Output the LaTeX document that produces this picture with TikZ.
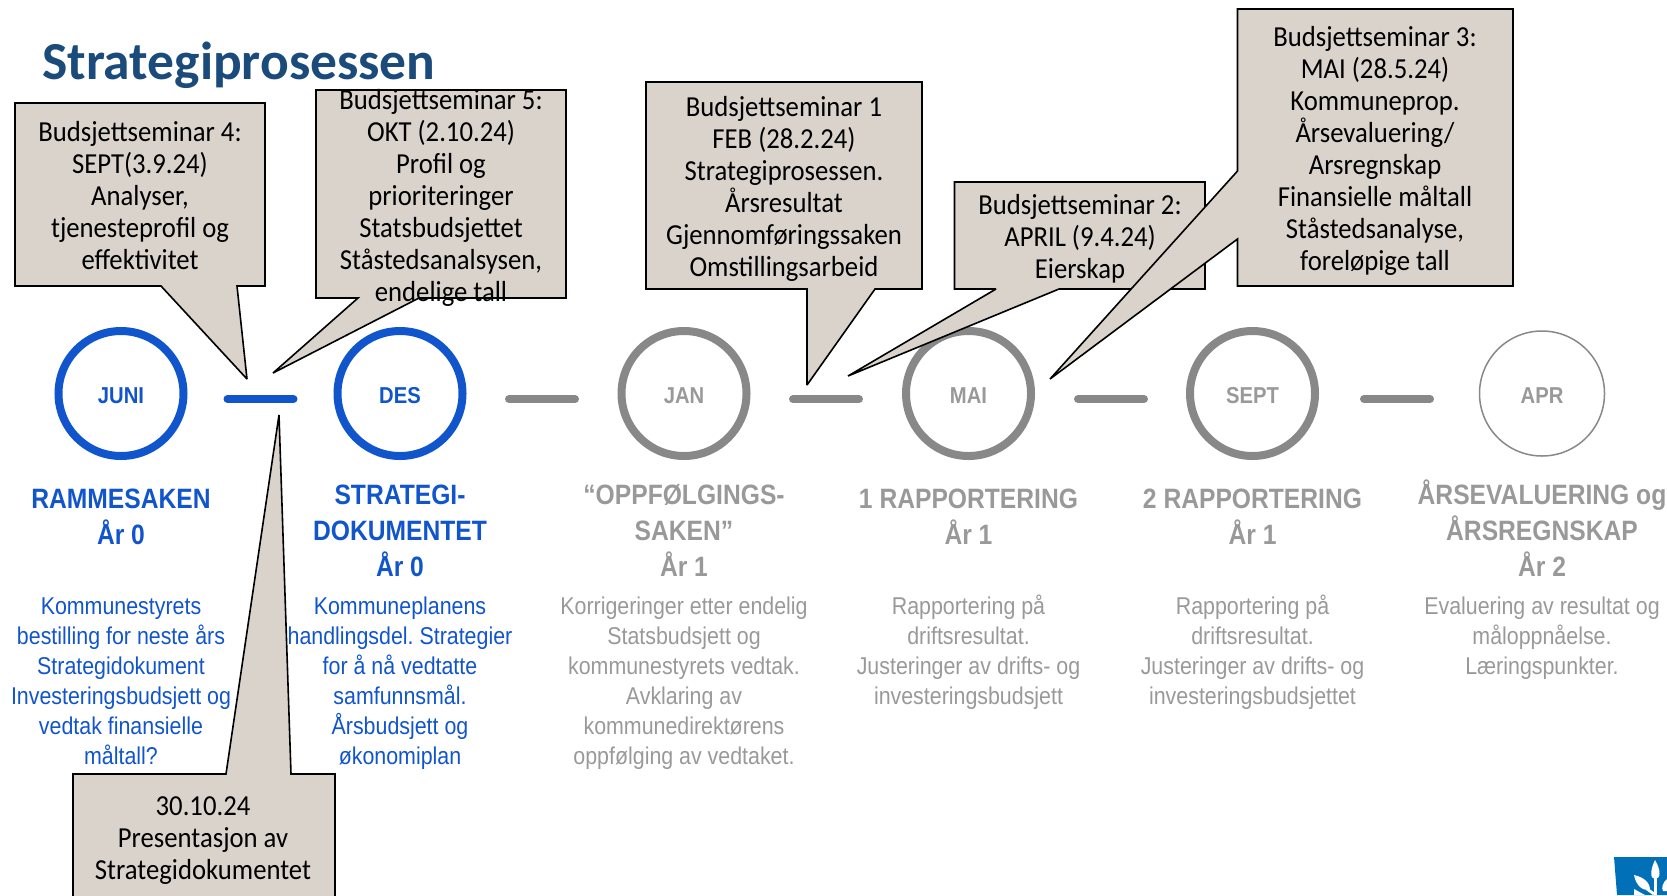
\documentclass[tikz,border=0pt]{standalone}
\usepackage{fontspec}
\setmainfont{Carlito}
\newfontfamily\calfont[FakeStretch=0.92]{Carlito}
\newfontfamily\robfont[FakeStretch=0.88]{Liberation Sans}
\frenchspacing
\definecolor{bluetl}{HTML}{1155CC}
\definecolor{graytl}{HTML}{888888}
\definecolor{graytx}{HTML}{999999}
\definecolor{callfill}{HTML}{D9D3CC}
\definecolor{titleblue}{HTML}{1A4B7A}
\definecolor{logoblue}{HTML}{0070B8}
\tikzset{
  callout/.style={draw=black,line width=1.6pt,fill=callfill,line join=miter,miter limit=3},
  calltext/.style={font=\calfont\fontsize{29}{32}\selectfont,align=center,anchor=north,inner sep=0pt,text=black},
  ring/.style={circle,draw=#1,line width=8pt,minimum size=125pt,inner sep=0pt,fill=none},
  monthlab/.style={font=\robfont\bfseries\fontsize{23}{26}\selectfont,text=#1,inner sep=0pt,text height=16pt,text depth=0pt},
  dashbar/.style={line width=8pt,line cap=round,draw=#1},
  headtext/.style={font=\robfont\bfseries\fontsize{28}{36}\selectfont,align=center,anchor=north,inner sep=0pt,text=#1},
  bodytext/.style={font=\robfont\fontsize{24.3}{30}\selectfont,align=center,anchor=north,inner sep=0pt,text=#1},
}
\begin{document}
\begin{tikzpicture}[x=1pt,y=-1pt]
\useasboundingbox (0,0) rectangle (1667,895);
\clip (0,0) rectangle (1667,895);
% rings
\node[ring=bluetl] (juni) at (121,393.5) {};
\node[ring=bluetl] (des) at (400,393.5) {};
\node[ring=graytl] (jan) at (684,393.5) {};
\node[ring=graytl] (mai) at (968.5,393.5) {};
\node[ring=graytl] (sept) at (1252.5,393.5) {};
\node[circle,draw=graytl,line width=1.5pt,minimum size=125pt,inner sep=0pt] (apr) at (1542,393.5) {};
\node[monthlab=bluetl] (tjuni) at (121,395.5) {JUNI};
\node[monthlab=bluetl] (tdes) at (400,395.5) {DES};
\node[monthlab=graytx] (tjan) at (684,395.5) {JAN};
\node[monthlab=graytx] (tmai) at (968.5,395.5) {MAI};
\node[monthlab=graytx] (tsept) at (1252.5,395.5) {SEPT};
\node[monthlab=graytx] (tapr) at (1542,395.5) {APR};
% bars between the rings
\coordinate (b1a) at (227.5,399); \coordinate (b1b) at (293.5,399);
\coordinate (b2a) at (509,399); \coordinate (b2b) at (575,399);
\coordinate (b3a) at (793,399); \coordinate (b3b) at (859,399);
\coordinate (b4a) at (1078,399); \coordinate (b4b) at (1144,399);
\coordinate (b5a) at (1364,399); \coordinate (b5b) at (1430,399);
\draw[dashbar=bluetl] (b1a) -- (b1b);
\draw[dashbar=graytl] (b2a) -- (b2b);
\draw[dashbar=graytl] (b3a) -- (b3b);
\draw[dashbar=graytl] (b4a) -- (b4b);
\draw[dashbar=graytl] (b5a) -- (b5b);
% headings
\node[headtext=bluetl] (h1) at (121,483.4) {\strut RAMMESAKEN\\År 0};
\node[headtext=bluetl] (h2) at (400,479.2) {\strut STRATEGI-\\DOKUMENTET\\År 0};
\node[headtext=graytx] (h3) at (684,479.2) {\strut “OPPFØLGINGS-\\SAKEN”\\År 1};
\node[headtext=graytx] (h4) at (968.5,483.4) {\strut 1 RAPPORTERING\\År 1};
\node[headtext=graytx] (h5) at (1252.5,483.4) {\strut 2 RAPPORTERING\\År 1};
\node[headtext=graytx] (h6) at (1542,479.2) {\strut ÅRSEVALUERING og\\ÅRSREGNSKAP\\År 2};
% body texts
\node[bodytext=bluetl] (t1) at (121,593.5) {\strut Kommunestyrets\\bestilling for neste års\\Strategidokument\\Investeringsbudsjett og\\vedtak finansielle\\måltall?};
\node[bodytext=bluetl] (t2) at (400,593.5) {\strut Kommuneplanens\\handlingsdel. Strategier\\for å nå vedtatte\\samfunnsmål.\\Årsbudsjett og\\økonomiplan};
\node[bodytext=graytx] (t3) at (684,593.5) {\strut Korrigeringer etter endelig\\Statsbudsjett og\\kommunestyrets vedtak.\\Avklaring av\\kommunedirektørens\\oppfølging av vedtaket.};
\node[bodytext=graytx] (t4) at (968.5,593.5) {\strut Rapportering på\\driftsresultat.\\Justeringer av drifts- og\\investeringsbudsjett};
\node[bodytext=graytx] (t5) at (1252.5,593.5) {\strut Rapportering på\\driftsresultat.\\Justeringer av drifts- og\\investeringsbudsjettet};
\node[bodytext=graytx] (t6) at (1542,593.5) {\strut Evaluering av resultat og\\måloppnåelse.\\Læringspunkter.};
% title
\node[font=\fontsize{53.5}{56}\selectfont\bfseries,text=titleblue,anchor=base west,inner sep=0pt] (title) at (42,79.5) {Strategiprosessen};
% callouts
\draw[callout] (15,103) -- (265,103) -- (265,286) -- (237,286) -- (247,379) -- (161,286) -- (15,286) -- cycle;
\node[calltext] (c4) at (140,119) {\strut Budsjettseminar 4:\\SEPT(3.9.24)\\Analyser,\\tjenesteprofil og\\effektivitet};
\draw[callout] (316,90) -- (566,90) -- (566,298) -- (419,298) -- (273,373) -- (358,298) -- (316,298) -- cycle;
\node[calltext] (c5) at (441,87.3) {\strut Budsjettseminar 5:\\OKT (2.10.24)\\Profil og\\prioriteringer\\Statsbudsjettet\\Ståstedsanalsysen,\\endelige tall};
\draw[callout] (73,774) -- (226,774) -- (279,415) -- (291,774) -- (335,774) -- (335,900) -- (73,900) -- cycle;
\node[calltext] (c6) at (203,793) {\strut 30.10.24\\Presentasjon av\\Strategidokumentet};
\draw[callout] (646,82) -- (922,82) -- (922,289) -- (875,289) -- (807,385) -- (807,289) -- (646,289) -- cycle;
\node[calltext] (c1) at (784,93.6) {\strut Budsjettseminar 1\\FEB (28.2.24)\\Strategiprosessen.\\Årsresultat\\Gjennomføringssaken\\Omstillingsarbeid};
\draw[callout] (954.5,182) -- (1205,182) -- (1205,289) -- (1059,289) -- (848,376) -- (996,289) -- (954.5,289) -- cycle;
\node[calltext] (c2) at (1080,191.4) {\strut Budsjettseminar 2:\\APRIL (9.4.24)\\Eierskap};
\draw[callout] (1237.5,9) -- (1513,9) -- (1513,286) -- (1237.5,286) -- (1237.5,239) -- (1050,379) -- (1237.5,171) -- cycle;
\node[calltext] (c3) at (1375,23.4) {\strut Budsjettseminar 3:\\MAI (28.5.24)\\Kommuneprop.\\Årsevaluering/\\Arsregnskap\\Finansielle måltall\\Ståstedsanalyse,\\foreløpige tall};
% logo
\fill[logoblue] (1614,857) -- (1667,857) -- (1667,895) -- (1617,895) -- cycle;
\fill[white] (1655,860) .. controls (1650,870) and (1650,879) .. (1655,879) .. controls (1661,879) and (1661,870) .. (1655,860) -- cycle;
\fill[white] (1634,875) .. controls (1636,886) and (1643,891) .. (1650,890) .. controls (1650,882) and (1643,877) .. (1634,875) -- cycle;
\fill[white] (1654,878) rectangle (1657,895);
\fill[white] (1648,888) -- (1655,893) -- (1653,895) -- (1646,890) -- cycle;
\fill[white] (1667,879) .. controls (1663,882) and (1661,888) .. (1663,891) -- (1667,891) -- cycle;
\fill[white] (1634,889) -- (1645,895) -- (1634,895) -- cycle;
\end{tikzpicture}
\end{document}
